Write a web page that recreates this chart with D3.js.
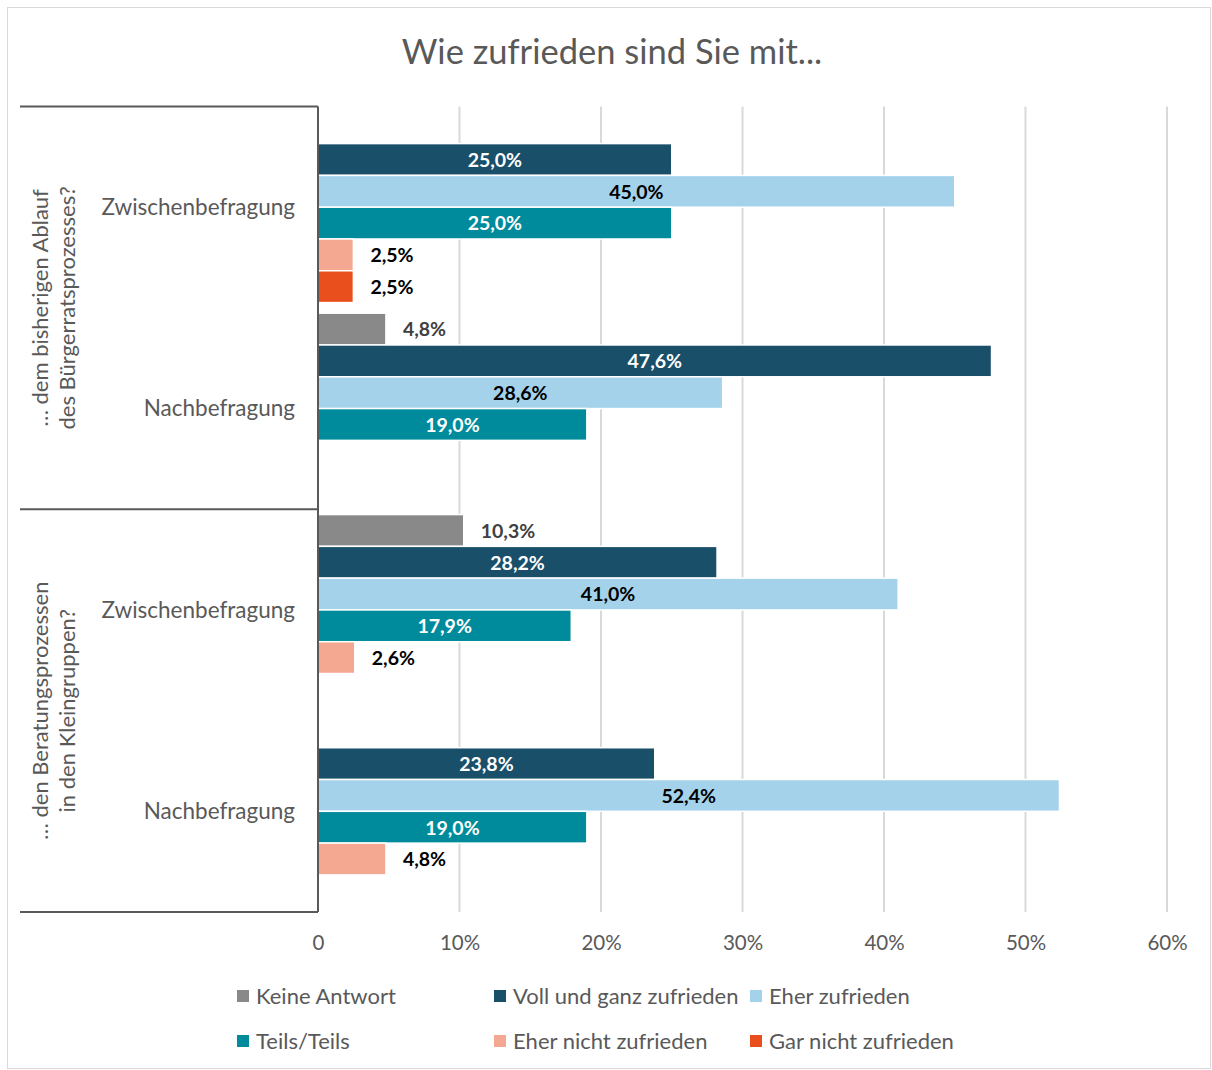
<!DOCTYPE html>
<html>
<head>
<meta charset="utf-8">
<script src="https://cdn.jsdelivr.net/npm/d3@7"></script>
<style>
  body { margin: 0; background: #fff; }
  svg { font-family: Lato, "Open Sans", sans-serif; }
</style>
</head>
<body>
<svg id="chart" width="1212" height="1070"></svg>
<script>
// categories: outer groups and inner surveys
var groups = [
  ["… dem bisherigen Ablauf", "des Bürgerratsprozesses?"],
  ["… den Beratungsprozessen", "in den Kleingruppen?"]
];
var categories = ["g1-zw", "g1-na", "g2-zw", "g2-na"];
var catLabels = ["Zwischenbefragung", "Nachbefragung", "Zwischenbefragung", "Nachbefragung"];

var seriesNames = ["Keine Antwort", "Voll und ganz zufrieden", "Eher zufrieden",
                   "Teils/Teils", "Eher nicht zufrieden", "Gar nicht zufrieden"];
var seriesColors = ["#898989", "#1a4f69", "#a4d2eb", "#008b9c", "#f4a791", "#e84f1d"];

// values per series, in category order (0 = no bar)
var keineAntwort = [0, 4.8, 10.3, 0];
var vollZufrieden = [25.0, 47.6, 28.2, 23.8];
var eherZufrieden = [45.0, 28.6, 41.0, 52.4];
var teilsTeils = [25.0, 19.0, 17.9, 19.0];
var eherNicht = [2.5, 0, 2.6, 4.8];
var garNicht = [2.5, 0, 0, 0];

var tickValues = [0, 10, 20, 30, 40, 50, 60];
var tickLabels = ["0", "10%", "20%", "30%", "40%", "50%", "60%"];

var seriesValues = [keineAntwort, vollZufrieden, eherZufrieden, teilsTeils, eherNicht, garNicht];
// label style per series: "in" = centered inside, "out" = outside end
var labelPos = ["out", "in", "in", "in", "out", "out"];
var labelColor = ["#404040", "#ffffff", "#000000", "#ffffff", "#000000", "#000000"];

var svg = d3.select("#chart");
var grey = "#595959";

// chart frame
svg.append("rect")
  .attr("x", 7.5).attr("y", 7.5)
  .attr("width", 1203).attr("height", 1061)
  .attr("fill", "#fff").attr("stroke", "#d9d9d9");

svg.append("text")
  .attr("x", 612).attr("y", 64)
  .attr("text-anchor", "middle")
  .attr("fill", grey)
  .style("font-size", "34.5px")
  .text("Wie zufrieden sind Sie mit...");

var x = d3.scaleLinear().domain([0, 60]).range([318, 1167]);
var y = d3.scaleBand().domain(categories).range([106.5, 912]);
var ySub = d3.scaleBand().domain(d3.range(6)).range([0, y.bandwidth()]).paddingOuter(0.167);

// gridlines
svg.append("g").selectAll("line")
  .data(tickValues.slice(1))
  .enter().append("line")
  .attr("x1", function(d) { return x(d); })
  .attr("x2", function(d) { return x(d); })
  .attr("y1", 106.5).attr("y2", 912)
  .attr("stroke", "#d9d9d9").attr("stroke-width", 2);

// x axis labels
var xAxis = d3.axisBottom(x).tickValues(tickValues)
  .tickFormat(function(d, i) { return tickLabels[i]; })
  .tickSize(0).tickPadding(23);
var gx = svg.append("g").attr("transform", "translate(0,912)").call(xAxis);
gx.select(".domain").remove();
gx.selectAll("text").attr("fill", grey).style("font-size", "20.5px").style("font-family", "Lato, sans-serif");

// bars
var rows = [];
seriesValues.forEach(function(vals, s) {
  vals.forEach(function(v, c) {
    if (v > 0) rows.push({ s: s, c: categories[c], v: v });
  });
});

var bars = svg.append("g");
bars.selectAll("rect")
  .data(rows)
  .enter().append("rect")
  .attr("x", x(0))
  .attr("y", function(d) { return y(d.c) + ySub(d.s); })
  .attr("width", function(d) { return x(d.v) - x(0); })
  .attr("height", ySub.bandwidth())
  .attr("fill", function(d) { return seriesColors[d.s]; })
  .attr("stroke", "#fff").attr("stroke-width", 1.5);

bars.selectAll("text")
  .data(rows)
  .enter().append("text")
  .attr("x", function(d) {
    return labelPos[d.s] == "in" ? (x(0) + x(d.v)) / 2 : x(d.v) + 17;
  })
  .attr("y", function(d) { return y(d.c) + ySub(d.s) + ySub.bandwidth() / 2; })
  .attr("dy", "0.38em")
  .attr("text-anchor", function(d) { return labelPos[d.s] == "in" ? "middle" : "start"; })
  .attr("fill", function(d) { return labelColor[d.s]; })
  .style("font-size", "19.5px").style("font-weight", "bold")
  .text(function(d) { return d.v.toFixed(1).replace(".", ",") + "%"; });

// category axis: vertical line and group separators
var axisLines = svg.append("g").attr("stroke", grey).attr("stroke-width", 2);
axisLines.append("line").attr("x1", 318).attr("x2", 318).attr("y1", 106.5).attr("y2", 912);
[106.5, y("g2-zw"), 912].forEach(function(yy) {
  axisLines.append("line").attr("x1", 20).attr("x2", 318).attr("y1", yy).attr("y2", yy);
});

// inner category labels
svg.append("g").selectAll("text")
  .data(categories)
  .enter().append("text")
  .attr("x", 295)
  .attr("y", function(d) { return y(d) + y.bandwidth() / 2; })
  .attr("dy", "0.35em")
  .attr("text-anchor", "end")
  .attr("fill", grey)
  .style("font-size", "22.5px")
  .text(function(d, i) { return catLabels[i]; });

// outer group labels (rotated)
groups.forEach(function(lines, gi) {
  var cy = (y(categories[gi * 2]) + y(categories[gi * 2 + 1]) + y.bandwidth()) / 2;
  var t = svg.append("text")
    .attr("transform", "translate(40," + cy + ") rotate(-90)")
    .attr("text-anchor", "middle")
    .attr("fill", grey)
    .style("font-size", "22px");
  lines.forEach(function(l, li) {
    t.append("tspan").attr("x", 0).attr("dy", li == 0 ? "0.35em" : "1.25em").text(l);
  });
});

// legend
var legendX = [237, 494, 750];
var legendY = [996, 1041];
var legend = svg.append("g").selectAll("g")
  .data(seriesNames)
  .enter().append("g")
  .attr("transform", function(d, i) {
    return "translate(" + legendX[i % 3] + "," + legendY[Math.floor(i / 3)] + ")";
  });
legend.append("rect")
  .attr("x", 0).attr("y", -6).attr("width", 12).attr("height", 12)
  .attr("fill", function(d, i) { return seriesColors[i]; });
legend.append("text")
  .attr("x", 19).attr("dy", "0.35em")
  .attr("fill", grey)
  .style("font-size", "22px")
  .text(function(d) { return d; });
</script>
</body>
</html>
